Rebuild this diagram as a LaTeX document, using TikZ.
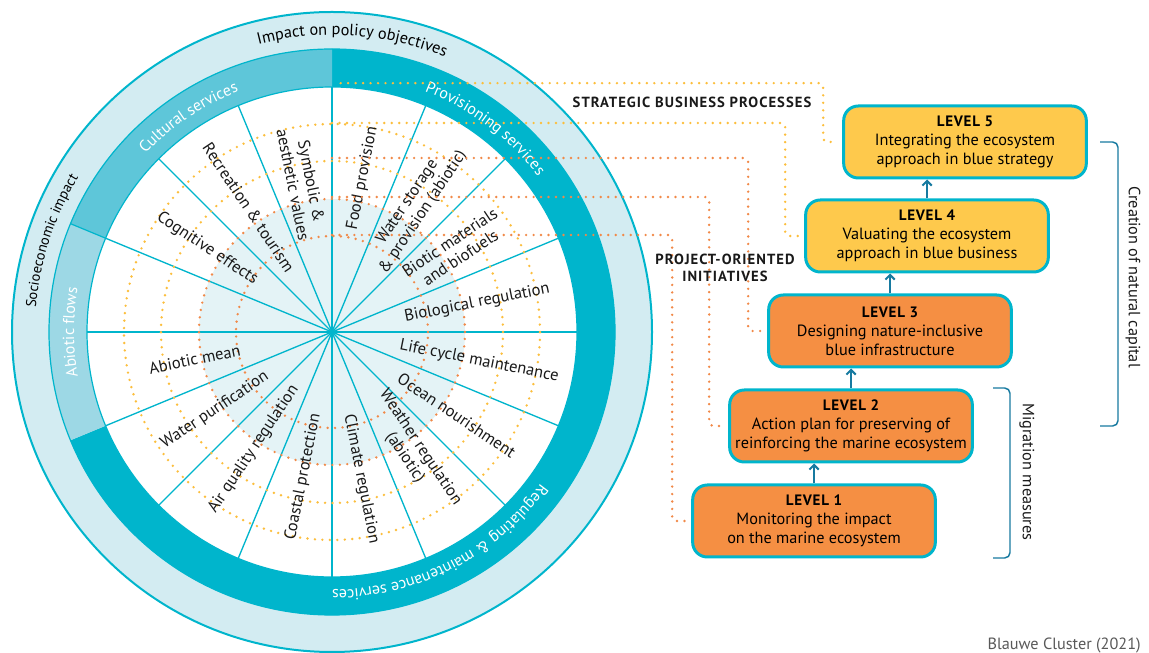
\documentclass[tikz,border=0pt]{standalone}
\usepackage{fontspec}
\setmainfont{PT Sans}
\usetikzlibrary{arrows.meta,decorations.text}

\definecolor{wheelcyan}{RGB}{0,181,204}
\definecolor{culturecyan}{RGB}{94,198,217}
\definecolor{abioticcyan}{RGB}{157,216,229}
\definecolor{ringlight}{RGB}{211,236,242}
\definecolor{corelight}{RGB}{228,243,246}
\definecolor{dotyellow}{RGB}{252,190,60}
\definecolor{dotorange}{RGB}{241,137,72}
\definecolor{boxyellow}{RGB}{254,201,76}
\definecolor{boxorange}{RGB}{245,143,67}
\definecolor{arrowteal}{RGB}{23,122,160}

\newcommand{\ringfont}{\fontsize{12}{14}\selectfont}
\newcommand{\lvlhead}[1]{{\fontsize{11.3}{14}\selectfont\bfseries\addfontfeature{LetterSpace=5}#1}}

\begin{document}
\begin{tikzpicture}[x=0.75pt, y=0.75pt,
  spoke/.style={wheelcyan, line width=1pt},
  ydots/.style={dotyellow, line width=2pt, line cap=round, dash pattern=on 0pt off 5.6pt},
  odots/.style={dotorange, line width=2pt, line cap=round, dash pattern=on 0pt off 5.6pt},
  sector/.style={font=\fontsize{12.4}{14}\selectfont, align=center, text=black!90},
  level/.style={draw=wheelcyan, line width=2.25pt, rounded corners=11pt, minimum width=182pt,
    minimum height=54pt, align=center, font=\fontsize{12.2}{14.25}\selectfont, inner sep=0pt},
  lvlup/.style={arrowteal, line width=1.5pt, -{Straight Barb[length=3.5pt, width=7pt]}},
  brace/.style={arrowteal, line width=1.1pt, rounded corners=4pt},
  caps/.style={font=\fontsize{11}{13}\selectfont\bfseries\addfontfeature{LetterSpace=7}, align=center, text=black!90},
  side/.style={font=\fontsize{12.2}{14}\selectfont, text=black!90}
]
  \useasboundingbox (0,0) rectangle (1149,653);

  % Wheel
  \begin{scope}[shift={(332,321)}]
    % outer ring
    \draw[wheelcyan, line width=1.5pt, fill=ringlight] (0,0) circle[radius=320];
    % service bands
    \fill[wheelcyan] (-157.5:283) arc[start angle=-157.5, end angle=90, radius=283]
      -- (90:245) arc[start angle=90, end angle=-157.5, radius=245] -- cycle;
    \fill[culturecyan] (90:283) arc[start angle=90, end angle=157.5, radius=283]
      -- (157.5:245) arc[start angle=157.5, end angle=90, radius=245] -- cycle;
    \fill[abioticcyan] (157.5:283) arc[start angle=157.5, end angle=202.5, radius=283]
      -- (202.5:245) arc[start angle=202.5, end angle=157.5, radius=245] -- cycle;
    \draw[wheelcyan, line width=0.9pt] (0,0) circle[radius=283];
    \draw[wheelcyan, line width=0.9pt] (157.5:245) -- (157.5:283);
    % inner disc
    \draw[wheelcyan, line width=0.9pt, fill=white] (0,0) circle[radius=245];
    \fill[corelight] (0,0) circle[radius=133];
    % spokes
    \foreach \a in {0,22.5,...,337.5}
      \draw[spoke] (0,0) -- (\a:245);
    % level rings
    \draw[ydots] (0,0) circle[radius=208];
    \draw[ydots] (0,0) circle[radius=171];
    \draw[odots] (0,0) circle[radius=133];
    \draw[odots] (0,0) circle[radius=96];
    \coordinate (top5) at (88:249);
    \coordinate (top4) at (90:209);
    \coordinate (top3) at (90:174);
    \coordinate (top2) at (90:135);
    \coordinate (top1) at (90:97);

    % ring labels
    \path[decorate, decoration={text along path, text align=center,
      text={|\fontsize{12.2}{14}\selectfont|Impact on policy objectives}}]
      (126:297) arc[start angle=126, end angle=46, radius=297];
    \path[decorate, decoration={text along path, text align=center,
      text={|\fontsize{10.8}{12}\selectfont|Socioeconomic impact}}]
      (202:297) arc[start angle=202, end angle=122, radius=297];
    \path[decorate, decoration={text along path, text align=center,
      text={|\ringfont\color{white}|Cultural services}}]
      (163.75:258) arc[start angle=163.75, end angle=83.75, radius=258];
    \path[decorate, decoration={text along path, text align=center,
      text={|\ringfont\color{white}|Provisioning services}}]
      (93:258) arc[start angle=93, end angle=13, radius=258];
    \path[decorate, decoration={text along path, text align=center,
      text={|\ringfont\color{white}|Abiotic flows}}]
      (220:258) arc[start angle=220, end angle=140, radius=258];
    \path[decorate, decoration={text along path, text align=center,
      text={|\ringfont\color{white}|Regulating {\&} maintenance services}}]
      (-13:258) arc[start angle=-13, end angle=-113, radius=258];

    % sector labels
    \foreach \a/\r/\txt [count=\i] in {
      11.25/148/Biological regulation,
      33.75/148/{Biotic materials\\and biofuels},
      56.25/150/{Water storage\\\& provision (abiotic)},
      78.75/157/Food provision,
      101.25/152/{Symbolic \&\\aesthetic values},
      123.75/150/Recreation \& tourism,
      146.25/150/Cognitive effects,
      191.25/140/Abiotic mean,
      213.75/141/Water purification,
      236.25/141/Air quality regulation,
      258.75/148/Coastal protection,
      281.25/150/Climate regulation,
      303.75/145/{Weather regulation\\(abiotic)},
      326.25/150/Ocean nourishment,
      348.75/150/Life cycle maintenance}
    {
      \pgfmathsetmacro\rot{ifthenelse(and(\a>90,\a<270),\a-180,\a)}
      \node[sector, rotate=\rot] (sec\i) at (\a:\r) {\txt};
    }
  \end{scope}

  % Levels
  \node[level, fill=boxyellow] (lvl5) at (965,511) {\lvlhead{LEVEL 5}\\Integrating the ecosystem\\approach in blue strategy};
  \node[level, fill=boxyellow] (lvl4) at (927,417) {\lvlhead{LEVEL 4}\\Valuating the ecosystem\\approach in blue business};
  \node[level, fill=boxorange] (lvl3) at (890,322) {\lvlhead{LEVEL 3}\\Designing nature-inclusive\\blue infrastructure};
  \node[level, fill=boxorange] (lvl2) at (851,227) {\lvlhead{LEVEL 2}\\Action plan for preserving of\\reinforcing the marine ecosystem};
  \node[level, fill=boxorange] (lvl1) at (814,132) {\lvlhead{LEVEL 1}\\Monitoring the impact\\on the marine ecosystem};

  % Level arrows
  \draw[lvlup] (lvl1.north) -- (lvl1.north |- lvl2.south);
  \draw[lvlup] (lvl2.north) -- (lvl2.north |- lvl3.south);
  \draw[lvlup] (lvl3.north) -- (lvl3.north |- lvl4.south);
  \draw[lvlup] (lvl4.north) -- (lvl4.north |- lvl5.south);

  % Dotted links from the wheel
  \draw[ydots, rounded corners=3pt] (top5) -| ([xshift=-14.25pt]lvl5.west) -- ([xshift=-3.5pt]lvl5.west);
  \draw[ydots, rounded corners=3pt] (top4) -| ([xshift=-14.25pt]lvl4.west) -- ([xshift=-3.5pt]lvl4.west);
  \draw[odots, rounded corners=3pt] (top3) -| ([xshift=-14.25pt]lvl3.west) -- ([xshift=-3.5pt]lvl3.west);
  \draw[odots, rounded corners=3pt] (top2) -| ([xshift=-14.25pt]lvl2.west) -- ([xshift=-3.5pt]lvl2.west);
  \draw[odots, rounded corners=3pt] (top1) -| ([xshift=-14.25pt]lvl1.west) -- ([xshift=-3.5pt]lvl1.west);

  % Group labels
  \node[caps] (strat) at (692,551) {STRATEGIC BUSINESS PROCESSES};
  \node[caps] (proj) at (725,385) {PROJECT-ORIENTED\\INITIATIVES};

  % Brackets
  \coordinate (crtop) at (1100,511);
  \coordinate (crbot) at (1100,227);
  \draw[brace] (crtop) -- ++(18,0) |- (crbot);
  \node[side, rotate=-90] (crlabel) at (1133,376) {Creation of natural capital};
  \coordinate (mgtop) at (993,265);
  \coordinate (mgbot) at (993,95);
  \draw[brace] (mgtop) -- ++(17,0) |- (mgbot);
  \node[side, rotate=-90] (mglabel) at (1027,181) {Migration measures};

  % Source
  \node[side, text=black!65, anchor=base east, inner sep=0pt] (source) at (1141,3) {Blauwe Cluster (2021)};
\end{tikzpicture}
\end{document}
